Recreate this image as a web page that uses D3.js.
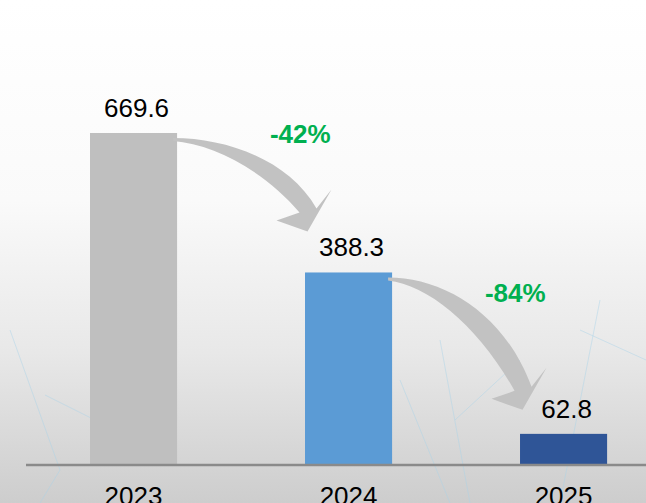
<!DOCTYPE html>
<html>
<head>
<meta charset="utf-8">
<script src="https://cdn.jsdelivr.net/npm/d3@7"></script>
<style>
  html, body { margin: 0; padding: 0; background: #fff; }
  svg { display: block; font-family: "Liberation Sans", Arial, sans-serif; }
</style>
</head>
<body>
<svg id="chart" width="646" height="503"></svg>
<script>
// chart values
const years = ["2023", "2024", "2025"];
const values = [669.6, 388.3, 62.8];
const barColors = ["#BFBFBF", "#5B9BD5", "#2F5597"];
const changes = ["-42%", "-84%"];

const W = 646, H = 503;
const baseY = 465;

const svg = d3.select("#chart");

// background gradient
const defs = svg.append("defs");
const grad = defs.append("linearGradient")
  .attr("id", "bg").attr("x1", 0).attr("y1", 0).attr("x2", 0).attr("y2", 1);
grad.append("stop").attr("offset", "0%").attr("stop-color", "#ffffff");
grad.append("stop").attr("offset", "40%").attr("stop-color", "#fafafa");
grad.append("stop").attr("offset", "70%").attr("stop-color", "#e8e8e8");
grad.append("stop").attr("offset", "100%").attr("stop-color", "#cdcdcd");
svg.append("rect").attr("width", W).attr("height", H).attr("fill", "url(#bg)");

// faint network texture at the bottom
const net = [
  [[10, 330], [60, 470]], [[60, 470], [40, 503]], [[45, 395], [95, 420]],
  [[440, 340], [470, 503]], [[455, 420], [520, 360]], [[580, 330], [646, 360]],
  [[600, 300], [560, 503]], [[400, 380], [450, 503]]
];
svg.append("g").selectAll("line")
  .data(net)
  .enter()
  .append("line")
  .attr("x1", d => d[0][0]).attr("y1", d => d[0][1])
  .attr("x2", d => d[1][0]).attr("y2", d => d[1][1])
  .style("stroke", "#a9d4ea")
  .style("stroke-width", 1)
  .style("opacity", 0.45);

const x = d3.scaleBand()
  .domain(years)
  .range([25.5, 671.6])
  .paddingInner(0.595)
  .paddingOuter(0.3);

const y = d3.scaleLinear()
  .domain([0, d3.max(values)])
  .range([baseY, 133]);

const g = svg.append("g");

// bars
g.selectAll("rect.bar")
  .data(values)
  .enter()
  .append("rect")
  .attr("class", "bar")
  .attr("x", (d, i) => x(years[i]))
  .attr("y", d => y(d))
  .attr("width", x.bandwidth())
  .attr("height", d => baseY - y(d))
  .attr("fill", (d, i) => barColors[i]);

// value labels
g.selectAll("text.val")
  .data(values)
  .enter()
  .append("text")
  .attr("class", "val")
  .attr("x", (d, i) => x(years[i]) + x.bandwidth() / 2 + 3)
  .attr("y", d => y(d) - 16)
  .attr("text-anchor", "middle")
  .style("font-size", "26px")
  .style("fill", "#000")
  .text(d => d.toFixed(1));

// axis
const axis = svg.append("g")
  .attr("transform", `translate(0,${baseY})`)
  .call(d3.axisBottom(x).tickSize(0).tickPadding(22));
axis.select(".domain").remove();
axis.selectAll("text")
  .style("font-size", "26px")
  .style("font-family", "'Liberation Sans', Arial, sans-serif")
  .style("fill", "#000");

svg.append("line")
  .attr("x1", 26).attr("x2", W)
  .attr("y1", baseY).attr("y2", baseY)
  .style("stroke", "#8a8a8a")
  .style("stroke-width", 2.5);

// curved arrows between bars
const tipDrop = [41, 24];

function arrowPath(sx, sy, tx, ty) {
  const oj = [tx + 9, ty - 23];     // outer joint
  const rw = [tx + 24, ty - 42];    // right wing
  const lw = [tx - 31, ty - 11];    // left wing
  const ij = [tx - 8, ty - 19];     // inner joint
  const odx = oj[0] - sx, ody = oj[1] - sy;
  const iy = sy + 3;
  const idx = ij[0] - sx, idy = ij[1] - iy;
  const p = d3.path();
  p.moveTo(sx, sy);
  p.bezierCurveTo(sx + 0.38 * odx, sy, sx + 0.81 * odx, sy + 0.32 * ody, oj[0], oj[1]);
  p.lineTo(rw[0], rw[1]);
  p.lineTo(tx, ty);
  p.lineTo(lw[0], lw[1]);
  p.lineTo(ij[0], ij[1]);
  p.bezierCurveTo(sx + 0.72 * idx, iy + 0.42 * idy, sx + 0.32 * idx, iy + 0.04 * idy, sx, iy);
  p.closePath();
  return p.toString();
}

const arrows = changes.map((c, i) => {
  const sx = x(years[i]) + x.bandwidth() - 4;
  const sy = y(values[i]) + 5;
  const tx = x(years[i + 1]) + 2.5;
  const ty = y(values[i + 1]) - tipDrop[i];
  return { label: c, sx, sy, tx, ty };
});

g.selectAll("path.arrow")
  .data(arrows)
  .enter()
  .append("path")
  .attr("class", "arrow")
  .attr("d", d => arrowPath(d.sx, d.sy, d.tx, d.ty))
  .style("fill", "#C2C2C2");

// change labels
g.selectAll("text.chg")
  .data(arrows)
  .enter()
  .append("text")
  .attr("class", "chg")
  .attr("x", d => (d.sx + d.tx) / 2 + 60)
  .attr("y", d => (d.sy + d.ty) / 2 - 42)
  .attr("text-anchor", "middle")
  .style("font-size", "26px")
  .style("font-weight", "bold")
  .style("fill", "#00B050")
  .text(d => d.label);
</script>
</body>
</html>
